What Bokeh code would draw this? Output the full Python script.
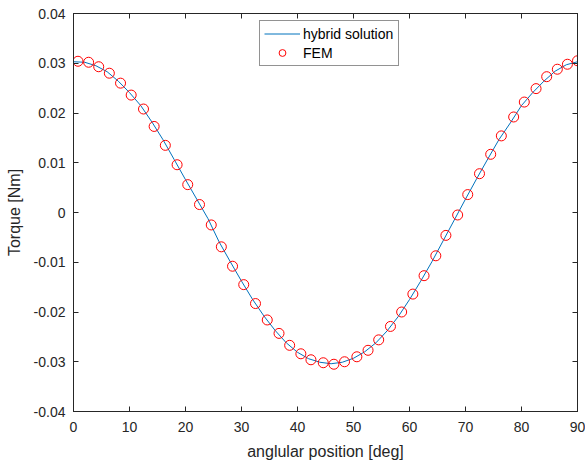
from bokeh.plotting import figure
from bokeh.models import FixedTicker, LinearAxis, Range1d
from bokeh.embed import file_html
from bokeh.resources import INLINE

# ---- data ----
x_ticks = [0, 10, 20, 30, 40, 50, 60, 70, 80, 90]
y_ticks = [-0.04, -0.03, -0.02, -0.01, 0.0, 0.01, 0.02, 0.03, 0.04]
y_tick_labels = ["-0.04", "-0.03", "-0.02", "-0.01", "0", "0.01", "0.02", "0.03", "0.04"]

fem_angle = [0.8, 2.7, 4.5, 6.4, 8.4, 10.3, 12.5, 14.4, 16.4, 18.5,
             20.4, 22.5, 24.6, 26.4, 28.4, 30.4, 32.5, 34.6, 36.7, 38.6,
             40.6, 42.4, 44.6, 46.5, 48.4, 50.6, 52.6, 54.5, 56.6, 58.6,
             60.6, 62.6, 64.7, 66.5, 68.6, 70.4, 72.5, 74.5, 76.4, 78.6,
             80.5, 82.6, 84.5, 86.4, 88.2, 90.0]
fem_torque = [0.0304, 0.0302, 0.0293, 0.0280, 0.0260, 0.0236, 0.0208, 0.0173, 0.0135, 0.0096,
              0.0056, 0.0016, -0.0025, -0.0069, -0.0108, -0.0145, -0.0183, -0.0216, -0.0243, -0.0267,
              -0.0284, -0.0296, -0.0302, -0.0305, -0.0300, -0.0290, -0.0277, -0.0256, -0.0229, -0.0200,
              -0.0164, -0.0127, -0.0087, -0.0046, -0.0005, 0.0036, 0.0078, 0.0117, 0.0154, 0.0192,
              0.0222, 0.0249, 0.0273, 0.0288, 0.0298, 0.0305]

hybrid_angle = [0.0, 2.0, 4.0, 6.0, 8.0, 10.0, 12.0, 14.0, 16.0, 18.0,
                20.0, 22.0, 24.0, 26.0, 28.0, 30.0, 32.0, 34.0, 36.0, 38.0,
                40.0, 42.0, 44.0, 46.0, 48.0, 50.0, 52.0, 54.0, 56.0, 58.0,
                60.0, 62.0, 64.0, 66.0, 68.0, 70.0, 72.0, 74.0, 76.0, 78.0,
                80.0, 82.0, 84.0, 86.0, 88.0, 90.0]
hybrid_torque = [0.0303, 0.0302, 0.0295, 0.0283, 0.0264, 0.0241, 0.0215, 0.0182, 0.0146, 0.0106,
                 0.0066, 0.0027, -0.0012, -0.0059, -0.0099, -0.0138, -0.0175, -0.0208, -0.0237, -0.0262,
                 -0.0281, -0.0294, -0.0301, -0.0304, -0.0301, -0.0293, -0.0280, -0.0262, -0.0238, -0.0209,
                 -0.0175, -0.0138, -0.0099, -0.0057, -0.0015, 0.0027, 0.0068, 0.0108, 0.0147, 0.0180,
                 0.0215, 0.0241, 0.0264, 0.0284, 0.0297, 0.0303]

AX = "#262626"
FONT = "Liberation Sans"

p = figure(width=585, height=464, output_backend="svg", toolbar_location=None,
           x_range=Range1d(0, 90), y_range=Range1d(-0.04, 0.04),
           min_border_left=73, min_border_right=8, min_border_top=13, min_border_bottom=53)
p.background_fill_color = "white"
p.border_fill_color = "white"
p.outline_line_color = AX
p.xgrid.visible = False
p.ygrid.visible = False

p.line(hybrid_angle, hybrid_torque, line_color="#0072BD", line_width=1,
       legend_label="hybrid solution")
p.scatter(fem_angle, fem_torque, marker="circle", size=10, fill_color=None,
          line_color="#FF0000", line_width=1, legend_label="FEM")

# main axes
for ax in (p.xaxis[0], p.yaxis[0]):
    ax.axis_line_color = AX
    ax.major_tick_line_color = AX
    ax.major_tick_in = 5
    ax.major_tick_out = 0
    ax.minor_tick_line_color = None
    ax.major_label_text_font = FONT
    ax.major_label_text_font_size = "14px"
    ax.major_label_text_color = AX
    ax.axis_label_text_font = FONT
    ax.axis_label_text_font_size = "16px"
    ax.axis_label_text_font_style = "normal"
    ax.axis_label_text_color = AX

p.xaxis[0].ticker = FixedTicker(ticks=x_ticks)
p.yaxis[0].ticker = FixedTicker(ticks=y_ticks)
p.yaxis[0].major_label_overrides = {t: l for t, l in zip(y_ticks, y_tick_labels)}
p.xaxis[0].axis_label = "anglular position [deg]"
p.yaxis[0].axis_label = "Torque [Nm]"
p.xaxis[0].major_label_standoff = 10
p.xaxis[0].axis_label_standoff = 8
p.yaxis[0].major_label_standoff = 8
p.yaxis[0].axis_label_standoff = 8

# box ticks on top and right
top = LinearAxis(ticker=FixedTicker(ticks=x_ticks))
right = LinearAxis(ticker=FixedTicker(ticks=y_ticks))
for ax in (top, right):
    ax.axis_line_color = AX
    ax.major_tick_line_color = AX
    ax.major_tick_in = 5
    ax.major_tick_out = 0
    ax.minor_tick_line_color = None
    ax.major_label_text_font_size = "0px"
    ax.major_label_text_color = None
    ax.major_label_standoff = 0
p.add_layout(top, "above")
p.add_layout(right, "right")

lg = p.legend[0]
lg.location = (186, 345)
lg.border_line_color = AX
lg.border_line_width = 1
lg.background_fill_color = "white"
lg.background_fill_alpha = 1
lg.label_text_font = FONT
lg.label_text_font_size = "14px"
lg.label_text_color = "#000000"
lg.glyph_width = 36
lg.glyph_height = 17
lg.label_height = 17
lg.label_width = 91
lg.spacing = 2
lg.padding = 4
lg.margin = 0
lg.label_standoff = 3

open("out.html", "w").write(file_html(p, INLINE))
